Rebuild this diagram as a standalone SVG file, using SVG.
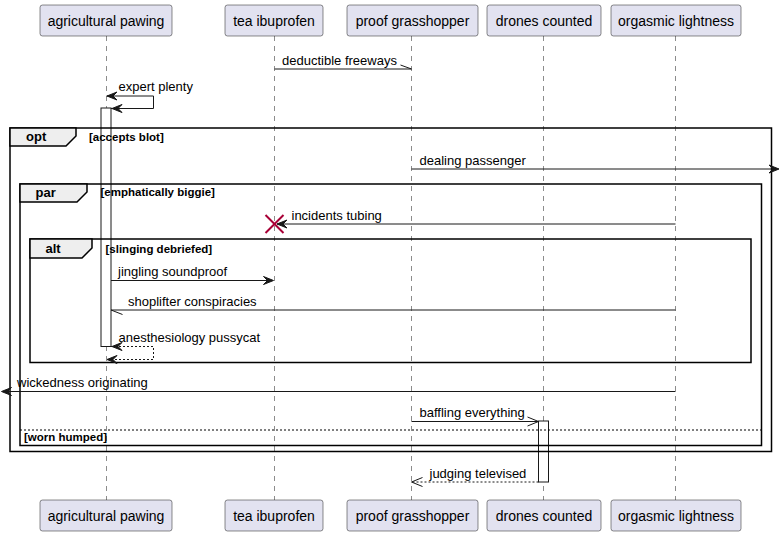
<svg xmlns="http://www.w3.org/2000/svg" width="781" height="535" viewBox="0 0 781 535">
<style>
.pbox{fill:#E2E2F0;stroke:#181818;stroke-width:0.5}
.pt{font-family:"Liberation Sans",Arial,sans-serif;font-size:14px;fill:#000;text-anchor:middle}
.life{stroke:#181818;stroke-width:0.5;stroke-dasharray:5,5;fill:none}
.act{fill:#FFFFFF;stroke:#181818;stroke-width:1}
.frame{fill:none;stroke:#000;stroke-width:1.5}
.tab{fill:#EEEEEE;stroke:#000;stroke-width:1.5}
.ft{font-family:"Liberation Sans",Arial,sans-serif;font-size:13px;font-weight:bold;fill:#000}
.gt{font-family:"Liberation Sans",Arial,sans-serif;font-size:11.5px;font-weight:bold;fill:#000}
.msg{stroke:#181818;stroke-width:1;fill:none}
.dash{stroke:#181818;stroke-width:1;fill:none;stroke-dasharray:2,2}
.head{fill:#181818;stroke:#181818;stroke-width:1}
.mt{font-family:"Liberation Sans",Arial,sans-serif;font-size:13px;fill:#000}
</style>
<g id="lifelines">
<line class="life" x1="106.5" y1="36" x2="106.5" y2="500"/>
<line class="life" x1="274.5" y1="36" x2="274.5" y2="500"/>
<line class="life" x1="411.5" y1="36" x2="411.5" y2="500"/>
<line class="life" x1="543.5" y1="36" x2="543.5" y2="500"/>
<line class="life" x1="675.5" y1="36" x2="675.5" y2="500"/>
</g>
<g id="p1">
<rect class="pbox" x="40" y="5" width="132" height="31" rx="2.5"/>
<text class="pt" x="106" y="26">agricultural pawing</text>
<rect class="pbox" x="40" y="500" width="132" height="31" rx="2.5"/>
<text class="pt" x="106" y="521">agricultural pawing</text>
</g>
<g id="p2">
<rect class="pbox" x="225" y="5" width="98" height="31" rx="2.5"/>
<text class="pt" x="274" y="26">tea ibuprofen</text>
<rect class="pbox" x="225" y="500" width="98" height="31" rx="2.5"/>
<text class="pt" x="274" y="521">tea ibuprofen</text>
</g>
<g id="p3">
<rect class="pbox" x="347" y="5" width="131" height="31" rx="2.5"/>
<text class="pt" x="412.5" y="26">proof grasshopper</text>
<rect class="pbox" x="347" y="500" width="131" height="31" rx="2.5"/>
<text class="pt" x="412.5" y="521">proof grasshopper</text>
</g>
<g id="p4">
<rect class="pbox" x="487" y="5" width="114" height="31" rx="2.5"/>
<text class="pt" x="544" y="26">drones counted</text>
<rect class="pbox" x="487" y="500" width="114" height="31" rx="2.5"/>
<text class="pt" x="544" y="521">drones counted</text>
</g>
<g id="p5">
<rect class="pbox" x="611" y="5" width="130" height="31" rx="2.5"/>
<text class="pt" x="676" y="26">orgasmic lightness</text>
<rect class="pbox" x="611" y="500" width="130" height="31" rx="2.5"/>
<text class="pt" x="676" y="521">orgasmic lightness</text>
</g>
<g id="activations">
<rect class="act" x="101" y="108" width="10" height="238.5"/>
<rect class="act" x="538.5" y="421" width="10" height="61"/>
</g>
<g id="frames">
<rect class="frame" x="10" y="128" width="761.5" height="323.5"/>
<polygon class="tab" points="10,128 76,128 76,136 66,146 10,146"/>
<text class="ft" x="26" y="141">opt</text>
<text class="gt" x="89" y="141">[accepts blot]</text>
<rect class="frame" x="20" y="184" width="741.5" height="261.5"/>
<polygon class="tab" points="20,184 87,184 87,192 77,202 20,202"/>
<text class="ft" x="35.5" y="197">par</text>
<text class="gt" x="100.5" y="196">[emphatically biggie]</text>
<line x1="20" y1="430" x2="761.5" y2="430" stroke="#000" stroke-width="1" stroke-dasharray="2,2"/>
<text class="gt" x="24" y="441">[worn humped]</text>
<rect class="frame" x="30" y="239" width="721" height="123.5"/>
<polygon class="tab" points="30,239 92,239 92,248 82,258 30,258"/>
<text class="ft" x="45.5" y="253">alt</text>
<text class="gt" x="105.5" y="253">[slinging debriefed]</text>
</g>
<g id="connectors">
<line class="msg" x1="274.5" y1="69" x2="411.5" y2="69"/>
<line class="msg" x1="411.5" y1="69" x2="400.5" y2="65"/>
<text class="mt" x="282" y="65">deductible freeways</text>

<path class="msg" d="M106.5,96 H153.5 V108.5 H111"/>
<polygon class="head" points="117,92 107,96 117,100 113,96"/>
<polygon class="head" points="122,104.5 112,108.5 122,112.5 118,108.5"/>
<text class="mt" x="118.5" y="91">expert plenty</text>

<line class="msg" x1="411.5" y1="169" x2="777" y2="169"/>
<polygon class="head" points="769,165 779,169 769,173 773,169"/>
<text class="mt" x="419.5" y="165">dealing passenger</text>

<line class="msg" x1="675.5" y1="224" x2="277" y2="224"/>
<polygon class="head" points="287,220 277,224 287,228 283,224"/>
<line x1="265.5" y1="215" x2="283.5" y2="233" stroke="#A80036" stroke-width="2"/>
<line x1="265.5" y1="233" x2="283.5" y2="215" stroke="#A80036" stroke-width="2"/>
<text class="mt" x="291.5" y="220">incidents tubing</text>

<line class="msg" x1="111" y1="280.5" x2="272" y2="280.5"/>
<polygon class="head" points="263.5,276.5 273.5,280.5 263.5,284.5 267.5,280.5"/>
<text class="mt" x="118" y="276">jingling soundproof</text>

<line class="msg" x1="675.5" y1="310" x2="111" y2="310"/>
<line class="msg" x1="111" y1="310" x2="122.5" y2="314.5"/>
<text class="mt" x="128" y="306">shoplifter conspiracies</text>

<path class="dash" d="M111,346.5 H153.5 V359.5 H107"/>
<polygon class="head" points="122,342.5 112,346.5 122,350.5 118,346.5"/>
<polygon class="head" points="117,355.5 107,359.5 117,363.5 113,359.5"/>
<text class="mt" x="118.5" y="342">anesthesiology pussycat</text>

<line class="msg" x1="675.5" y1="391.5" x2="3" y2="391.5"/>
<polygon class="head" points="11.5,387.5 1.5,391.5 11.5,395.5 7.5,391.5"/>
<text class="mt" x="17" y="387">wickedness originating</text>

<line class="msg" x1="411.5" y1="421.5" x2="538.5" y2="421.5"/>
<line class="msg" x1="538.5" y1="421.5" x2="527.5" y2="417"/>
<line class="msg" x1="538.5" y1="421.5" x2="527.5" y2="426"/>
<text class="mt" x="419.5" y="417">baffling everything</text>

<line class="dash" x1="538.5" y1="482" x2="411.5" y2="482"/>
<line class="msg" x1="411.5" y1="482" x2="422.5" y2="477.5"/>
<line class="msg" x1="411.5" y1="482" x2="422.5" y2="486.5"/>
<text class="mt" x="429.5" y="478">judging televised</text>
</g>
</svg>
